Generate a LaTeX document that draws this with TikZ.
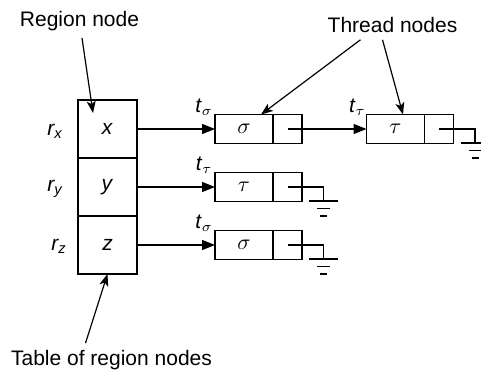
\documentclass[tikz,border=0pt]{standalone}
\usepackage{fontspec}
\setmainfont{Liberation Sans}
\usepackage{tikz}
\usetikzlibrary{arrows.meta}

\begin{document}
\begin{tikzpicture}[x=0.5pt,y=-0.5pt,>={Triangle[length=6.5pt,width=5pt]},
  font=\fontsize{10.5}{12}\selectfont,
  cell/.style={draw,line width=0.8pt,minimum width=29.5pt,minimum height=29pt,inner sep=0pt,outer sep=0pt},
  key/.style={draw,line width=0.8pt,minimum width=29pt,minimum height=14.5pt,inner sep=0pt,outer sep=0pt},
  ptr/.style={draw,line width=0.8pt,minimum width=14.5pt,minimum height=14.5pt,inner sep=0pt,outer sep=0pt,anchor=west},
  link/.style={->,line width=0.6pt},
  call/.style={line width=0.6pt,-{Stealth[length=6pt,width=4.5pt,inset=1.5pt]}},
  earth/.pic={\draw[line width=0.6pt] (-14.5,0)--(14.5,0) (-6.5,7.5)--(6.5,7.5) (-3.5,15)--(3.5,15);}]
  \useasboundingbox (0,0) rectangle (481,371);

  % table of region nodes
  \node[cell] (X) at (107.5,129) {\textit{x}};
  \node[cell] (Y) at (107.5,187) {\textit{y}};
  \node[cell] (Z) at (107.5,245) {\textit{z}};
  \node (RX) at (55,131) {\textit{r\textsubscript{x}}};
  \node (RY) at (55,189) {\textit{r\textsubscript{y}}};
  \node (RZ) at (59,246) {\textit{r\textsubscript{z}}};

  % thread nodes
  \node[key] (S1) at (244,129) {$\sigma$};
  \node[ptr] (P1) at (S1.east) {};
  \node[key] (T1) at (395.5,129) {$\tau$};
  \node[ptr] (P2) at (T1.east) {};
  \node[key] (T2) at (244,187) {$\tau$};
  \node[ptr] (P3) at (T2.east) {};
  \node[key] (S2) at (244,245) {$\sigma$};
  \node[ptr] (P4) at (S2.east) {};

  \draw[link] (X) -- node[pos=0.86,yshift=11pt] {\textit{t}$_\sigma$} (S1);
  \draw[link] (P1.center) -- node[pos=0.885,yshift=11pt] {\textit{t}$_\tau$} (T1);
  \draw[link] (Y) -- node[pos=0.86,yshift=11pt] {\textit{t}$_\tau$} (T2);
  \draw[link] (Z) -- node[pos=0.86,yshift=11pt] {\textit{t}$_\sigma$} (S2);

  \draw[line width=0.6pt] (P2.center) -- ++(36,0) -- ++(0,14) pic {earth};
  \draw[line width=0.6pt] (P3.center) -- ++(36,0) -- ++(0,14) pic {earth};
  \draw[line width=0.6pt] (P4.center) -- ++(36,0) -- ++(0,14) pic {earth};

  % callouts
  \node (RN) at (79.5,21) {Region node};
  \node (TN) at (392.5,25) {Thread nodes};
  \node (TB) at (111.5,360) {Table of region nodes};
  \draw[call] (RN) -- ([xshift=7.5pt,yshift=-6.5pt]X.north west);
  \draw[call] ([xshift=-16pt]TN.south) -- ([xshift=8.5pt]S1.north);
  \draw[call] ([xshift=-5pt]TN.south) -- ([xshift=3.75pt]T1.north);
  \draw[call] ([xshift=-13pt]TB.north) -- (Z.south);
\end{tikzpicture}
\end{document}
